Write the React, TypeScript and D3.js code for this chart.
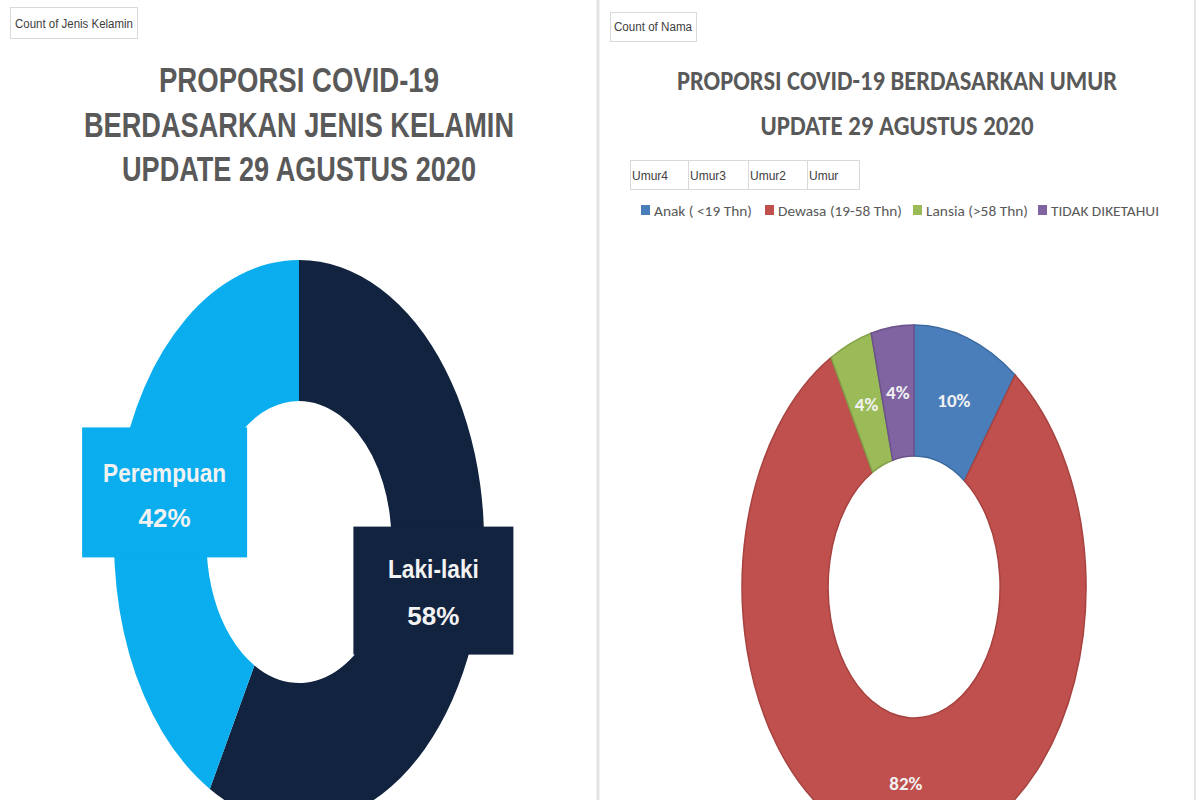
import React from "react";
import * as d3 from "d3";

// ---- Data ----
const sexCategories = ["Laki-laki", "Perempuan"];
const sexValues = [58, 42];
const sexColors = ["#12233F", "#0AAEEE"];

const ageCategories = ["Anak ( <19 Thn)", "Dewasa (19-58 Thn)", "Lansia (>58 Thn)", "TIDAK DIKETAHUI"];
const ageValues = [10, 82, 4, 4];
const ageColors = ["#4A7EBB", "#C0504D", "#9BBB59", "#8064A2"];
const ageStrokes = ["#3C6A9E", "#A6423F", "#82A048", "#6B528A"];

const fieldButtons = ["Umur4", "Umur3", "Umur2", "Umur"];

const leftTitle = ["PROPORSI COVID-19", "BERDASARKAN JENIS KELAMIN", "UPDATE 29 AGUSTUS 2020"];
const rightTitle = ["PROPORSI COVID-19 BERDASARKAN UMUR", "UPDATE 29 AGUSTUS 2020"];

// ---- Layout ----
const W = 1200, H = 800;
const L = { cx: 299, cy: 542, rx: 185, ry: 282 };
const R = { cx: 914, cy: 587, rx: 172, ry: 262 };
const narrow = "'Liberation Sans Narrow', 'Arial Narrow', 'Liberation Sans', Arial, sans-serif";
const calib = "Carlito, Calibri, Lato, 'Open Sans', sans-serif";
const legendX = [641, 765, 913, 1038];
const legendW = [98, 124, 102, 108];

const pie = d3.pie<number>().sort(null).value((d) => d);
const arc = d3.arc<d3.PieArcDatum<number>>().innerRadius(0.5).outerRadius(1);

export default function App() {
  const sexArcs = pie(sexValues);
  const ageArcs = pie(ageValues);
  const total = d3.sum(ageValues);
  const sexTotal = d3.sum(sexValues);

  return (
    <svg width={W} height={H} style={{ position: "absolute", left: 0, top: 0, background: "#fff" }}>
      <rect x={0} y={0} width={W} height={H} fill="#fff" />
      {/* panel separators */}
      <line x1={598} y1={0} x2={598} y2={H} stroke="#E3E3E3" strokeWidth={3} />
      <line x1={1195} y1={0} x2={1195} y2={H} stroke="#E6E6E6" strokeWidth={2} />

      {/* ---------- LEFT PANEL ---------- */}
      <rect x={10.5} y={7.5} width={127} height={31} fill="#fff" stroke="#D9D9D9" />
      <text x={74} y={28} textAnchor="middle" fontSize={12} fill="#404040" fontFamily={narrow} textLength={118} lengthAdjust="spacingAndGlyphs">
        Count of Jenis Kelamin
      </text>
      {leftTitle.map((t, i) => (
        <text key={t} x={299} y={92 + i * 44.5} textAnchor="middle" fontSize={35} fontWeight="bold" fill="#595959" fontFamily={narrow}
          textLength={[280, 430, 354][i]} lengthAdjust="spacingAndGlyphs">
          {t}
        </text>
      ))}
      <g transform={`translate(${L.cx},${L.cy}) scale(${L.rx},${L.ry})`}>
        {sexArcs.map((a, i) => (
          <path key={i} d={arc(a) || ""} fill={sexColors[i]} />
        ))}
      </g>
      {sexArcs.map((a, i) => {
        const [ux, uy] = arc.centroid(a);
        const x = L.cx + ux * L.rx;
        const y = L.cy + uy * L.ry;
        const bw = i === 0 ? 160 : 165;
        const bh = i === 0 ? 128 : 130;
        const pct = Math.round((sexValues[i] / sexTotal) * 100) + "%";
        return (
          <g key={"lab" + i}>
            <rect x={x - bw / 2} y={y - bh / 2 + (i === 0 ? -4 : 3)} width={bw} height={bh} fill={sexColors[i]} />
            <text x={x} y={y + (i === 0 ? -17 : -7)} textAnchor="middle" fontSize={26} fontWeight="bold" fill="#F2F2F2" fontFamily={narrow}
              textLength={i === 0 ? 91 : 123} lengthAdjust="spacingAndGlyphs">
              {sexCategories[i]}
            </text>
            <text x={x} y={y + (i === 0 ? 30 : 38)} textAnchor="middle" fontSize={26} fontWeight="bold" fill="#F2F2F2" fontFamily={narrow}>
              {pct}
            </text>
          </g>
        );
      })}

      {/* ---------- RIGHT PANEL ---------- */}
      <rect x={610.5} y={12.5} width={86} height={29} fill="#fff" stroke="#D9D9D9" />
      <text x={653} y={31} textAnchor="middle" fontSize={12} fill="#404040" fontFamily={narrow} textLength={78} lengthAdjust="spacingAndGlyphs">
        Count of Nama
      </text>
      {rightTitle.map((t, i) => (
        <text key={t} x={897} y={90 + i * 45} textAnchor="middle" fontSize={28} fontWeight="bold" fill="#595959" fontFamily={calib}
          textLength={[440, 273][i]} lengthAdjust="spacingAndGlyphs">
          {t}
        </text>
      ))}
      {/* field buttons */}
      <rect x={630.5} y={160.5} width={229} height={29} fill="#fff" stroke="#D9D9D9" />
      {fieldButtons.map((b, i) => {
        const xs = [630, 688, 748, 807];
        return (
          <g key={b}>
            {i > 0 && <line x1={xs[i] + 0.5} y1={161} x2={xs[i] + 0.5} y2={189} stroke="#D9D9D9" />}
            <text x={xs[i] + 2} y={180} fontSize={12} fill="#404040" fontFamily={narrow}>
              {b}
            </text>
          </g>
        );
      })}
      {/* legend */}
      {ageCategories.map((c, i) => (
        <g key={c}>
          <rect x={legendX[i]} y={205} width={9} height={10} fill={ageColors[i]} />
          <text x={legendX[i] + 13} y={215.5} fontSize={14.5} fill="#595959" fontFamily={calib} textLength={legendW[i]} lengthAdjust="spacingAndGlyphs">
            {c}
          </text>
        </g>
      ))}
      <g transform={`translate(${R.cx},${R.cy}) scale(${R.rx},${R.ry})`}>
        {ageArcs.map((a, i) => (
          <path key={i} d={arc(a) || ""} fill={ageColors[i]} stroke={ageStrokes[i]} strokeWidth={1.5} vectorEffect="non-scaling-stroke" />
        ))}
      </g>
      {ageArcs.map((a, i) => {
        const [ux, uy] = arc.centroid(a);
        const x = R.cx + ux * R.rx;
        const y = R.cy + uy * R.ry;
        return (
          <text key={"al" + i} x={x} y={y} dy="0.35em" textAnchor="middle" fontSize={19} fontWeight="bold" fill="#F2F2F2" fontFamily={calib}>
            {Math.round((ageValues[i] / total) * 100) + "%"}
          </text>
        );
      })}
    </svg>
  );
}
